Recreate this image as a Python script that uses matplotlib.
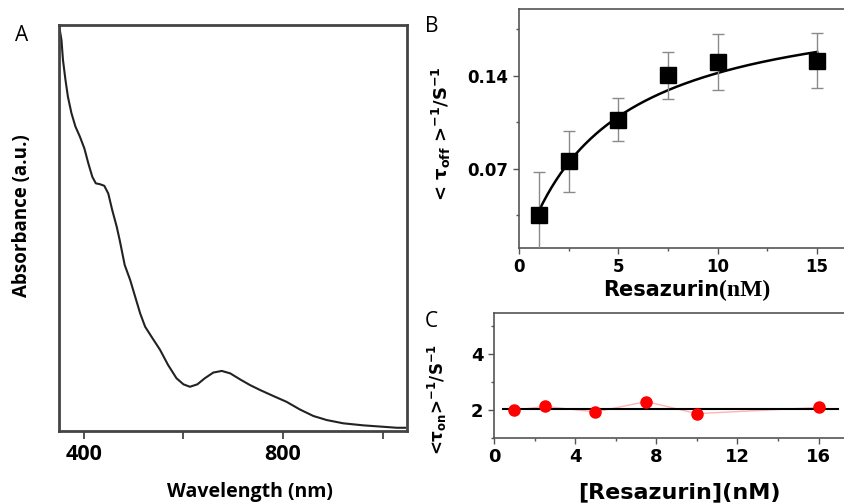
#!/usr/bin/env python3
import numpy as np
import matplotlib
matplotlib.use('Agg')
import matplotlib.pyplot as plt
from matplotlib.ticker import MultipleLocator

plt.rcParams['font.family'] = ['DejaVu Sans']
plt.rcParams['mathtext.fontset'] = 'dejavusans'

# Panel A: absorption spectrum
wavelength = [350, 355, 358, 363, 368, 375, 383, 392, 401, 409, 417, 424, 432, 441,
              449, 457, 466, 472, 482, 493, 503, 513, 523, 536, 553, 569, 586, 600,
              613, 628, 643, 660, 677, 694, 714, 734, 754, 781, 807, 834, 861, 888,
              921, 961, 995, 1029, 1045]
absorbance = [1.000, 0.963, 0.914, 0.865, 0.823, 0.783, 0.750, 0.725, 0.696, 0.659,
              0.626, 0.610, 0.608, 0.604, 0.585, 0.544, 0.503, 0.470, 0.409, 0.372,
              0.331, 0.290, 0.257, 0.232, 0.200, 0.163, 0.130, 0.115, 0.109, 0.115,
              0.130, 0.144, 0.148, 0.142, 0.127, 0.113, 0.101, 0.086, 0.072, 0.053,
              0.037, 0.027, 0.019, 0.014, 0.011, 0.008, 0.008]

# Panel B: off rate vs resazurin
conc_b = [1, 2.5, 5, 7.5, 10, 15]
koff = [0.0354, 0.0755, 0.1069, 0.1402, 0.1503, 0.1513]
koff_err = [0.032, 0.023, 0.016, 0.0177, 0.021, 0.0207]
fit_a = 0.203   # saturation value
fit_k = 4.3     # half-saturation concentration

# Panel C: on rate vs resazurin
conc_c = [1, 2.5, 5, 7.5, 10, 16]
kon = [1.99, 2.13, 1.93, 2.30, 1.87, 2.09]
kon_mean = 2.04

fig = plt.figure(figsize=(8.45, 5.03), dpi=100)

# ---- A ----
axA = fig.add_axes([0.0698, 0.1431, 0.4118, 0.8072])
axA.plot(wavelength, absorbance, color='#222222', lw=1.5)
axA.set_xlim(350, 1049)
axA.set_ylim(0, 1.0)
axA.set_yticks([])
axA.set_xticks([400, 800])
axA.xaxis.set_minor_locator(MultipleLocator(200))
axA.tick_params(axis='x', which='both', direction='out', length=6, width=1.3,
                color='#444444', labelsize=15.5)
for lab in axA.get_xticklabels():
    lab.set_fontfamily('Open Sans')
    lab.set_fontweight('bold')
for s in axA.spines.values():
    s.set_color('#444444')
    s.set_linewidth(2.0)
fig.text(0.018, 0.93, 'A', fontsize=15, family='Open Sans', ha='left', va='center')
fig.text(0.026, 0.571, 'Absorbance (a.u.)', rotation=90, fontsize=13.5,
         family='Open Sans', fontweight='bold', ha='center', va='center')
fig.text(0.296, 0.022, 'Wavelength (nm)', fontsize=14, family='Open Sans',
         fontweight='bold', ha='center', va='center')

# ---- B ----
axB = fig.add_axes([0.6142, 0.5070, 0.3858, 0.4751])
xf = np.linspace(conc_b[0], conc_b[-1], 200)
axB.plot(xf, fit_a * xf / (fit_k + xf), color='black', lw=1.8, zorder=2)
axB.errorbar(conc_b, koff, yerr=koff_err, fmt='s', color='black', ms=11,
             ecolor='#8a8a8a', elinewidth=1.0, capsize=4, capthick=1.0, zorder=3)
axB.set_xlim(0, 16.4)
axB.set_ylim(0.0105, 0.190)
axB.set_xticks([0, 5, 10, 15])
axB.set_yticks([0.07, 0.14])
axB.set_yticklabels(['0.07', '0.14'])
axB.xaxis.set_minor_locator(MultipleLocator(2.5))
axB.yaxis.set_minor_locator(MultipleLocator(0.035))
axB.tick_params(which='major', direction='out', length=4, width=1, color='#555555',
                labelsize=12)
axB.tick_params(which='minor', direction='out', length=2.5, width=1, color='#555555')
for lab in axB.get_xticklabels() + axB.get_yticklabels():
    lab.set_fontweight('bold')
axB.spines['right'].set_visible(False)
for s in ['left', 'bottom', 'top']:
    axB.spines[s].set_color('#555555')
    axB.spines[s].set_linewidth(1.2)
fig.text(0.503, 0.948, 'B', fontsize=15, family='Open Sans', ha='left', va='center')
fig.text(0.522, 0.735, r'< $\mathregular{\tau}_{\mathbf{off}}$ >$^{\mathbf{-1}}$/S$^{\mathbf{-1}}$',
         rotation=90, fontsize=13, fontweight='bold', ha='center', va='center')
fig.text(0.851, 0.423, 'Resazurin', fontsize=15, fontweight='bold', ha='right',
         va='center')
fig.text(0.851, 0.423, '(nM)', fontsize=17, fontweight='bold',
         family=['Liberation Serif', 'DejaVu Serif'], ha='left', va='center')

# ---- C ----
axC = fig.add_axes([0.5846, 0.1292, 0.4154, 0.2485])
axC.plot(conc_c, kon, color='#ffb4b4', lw=1.0, zorder=1)
axC.plot([0.46, 16.95], [kon_mean, kon_mean], color='black', lw=1.5, zorder=2)
axC.plot(conc_c, kon, 'o', color='#ff0000', ms=8, zorder=3)
axC.set_xlim(0, 17.3)
axC.set_ylim(1.0, 5.46)
axC.set_xticks([0, 4, 8, 12, 16])
axC.set_yticks([2, 4])
axC.xaxis.set_minor_locator(MultipleLocator(2))
axC.yaxis.set_minor_locator(MultipleLocator(1))
axC.tick_params(which='major', direction='out', length=4, width=1, color='#555555',
                labelsize=13)
axC.tick_params(which='minor', direction='out', length=2.5, width=1, color='#555555')
for lab in axC.get_xticklabels() + axC.get_yticklabels():
    lab.set_fontweight('bold')
axC.spines['right'].set_visible(False)
for s in ['left', 'bottom', 'top']:
    axC.spines[s].set_color('#555555')
    axC.spines[s].set_linewidth(1.2)
fig.text(0.503, 0.36, 'C', fontsize=15, family='Open Sans', ha='left', va='center')
fig.text(0.518, 0.205, r'<$\mathregular{\tau}_{\mathbf{on}}$>$^{\mathbf{-1}}$/S$^{\mathbf{-1}}$',
         rotation=90, fontsize=12, fontweight='bold', ha='center', va='center')
fig.text(0.804, 0.022, '[Resazurin](nM)', fontsize=16, fontweight='bold',
         ha='center', va='center')

plt.savefig('out.png', dpi=100)
